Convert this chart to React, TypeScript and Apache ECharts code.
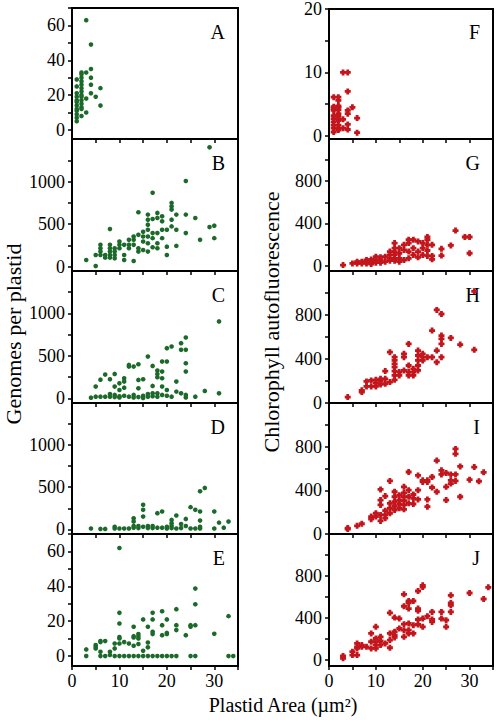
import React, { useEffect, useRef } from "react";
import * as echarts from "echarts";

// ---------- data (x = plastid area µm², y = value) ----------
const panelA = [
  [1, 5], [1, 7], [1, 9], [1, 11], [1, 12], [1, 14], [1, 16], [1, 17], [1, 19], [1, 21], [1, 25], [1, 29],
  [2, 8], [2, 12], [2, 13], [2, 15], [2, 17], [2, 19], [2, 20], [2, 22], [2, 24], [2, 26], [2, 28], [2, 30], [2, 32], [2, 33],
  [3, 10], [3, 18], [3, 33], [3, 63],
  [4, 21], [4, 26], [4, 30], [4, 35], [4, 49],
  [5, 19], [6, 14], [6, 24],
];
const panelB = [
  [3, 79], [5, 8], [5, 138], [6, 257], [6, 217], [6, 178], [6, 138], [7, 138], [7, 107], [8, 257], [8, 217], [8, 178], [8, 138], [8, 107], [8, 442],
  [9, 217], [9, 178], [9, 138], [9, 99], [10, 296], [10, 257], [10, 217], [11, 257], [11, 138], [11, 79], [12, 316], [12, 257], [12, 217],
  [13, 355], [13, 316], [13, 257], [13, 67], [14, 375], [14, 217], [14, 178], [14, 640], [15, 411], [15, 355], [15, 296], [15, 197],
  [16, 612], [16, 553], [16, 494], [16, 434], [16, 355], [16, 276], [16, 178], [17, 869], [17, 561], [17, 395], [17, 336], [17, 229],
  [18, 632], [18, 573], [18, 395], [18, 276], [18, 217], [19, 592], [19, 533], [19, 434], [19, 336], [20, 236], [20, 138], [20, 434],
  [21, 750], [21, 711], [21, 671], [21, 553], [21, 474], [22, 612], [22, 434], [22, 245], [24, 1007], [24, 612], [24, 395],
  [26, 572], [27, 316], [29, 1402], [29, 466], [30, 482], [30, 336],
];
const panelC = [
  [4, 8], [5, 138], [5, 20], [6, 20], [6, 220], [7, 20], [7, 280], [8, 225], [8, 50], [8, 20], [9, 288], [9, 138], [9, 40], [9, 15],
  [10, 177], [10, 98], [10, 25], [10, 10], [11, 197], [11, 236], [11, 126], [11, 30], [12, 374], [12, 394], [12, 20], [13, 374], [13, 40], [13, 10],
  [14, 402], [14, 217], [14, 118], [14, 15], [15, 225], [15, 30], [15, 5], [16, 492], [16, 50], [16, 20], [17, 382], [17, 146], [17, 60], [17, 25],
  [18, 327], [18, 288], [18, 248], [18, 60], [18, 20], [19, 433], [19, 315], [19, 236], [19, 138], [19, 40], [20, 433], [20, 591], [20, 98], [20, 30],
  [21, 610], [21, 20], [22, 197], [22, 79], [23, 650], [23, 571], [23, 59], [24, 717], [24, 571], [24, 413], [24, 315], [24, 40], [24, 10],
  [26, 20], [28, 87], [31, 906], [31, 59],
];
const panelD = [
  [4, 10], [6, 5], [7, 5], [9, 30], [9, 10], [10, 10], [11, 10], [12, 10], [13, 20], [13, 40], [14, 15], [14, 40], [15, 30], [16, 40], [16, 15],
  [17, 40], [17, 15], [18, 20], [19, 20], [20, 30], [20, 10], [21, 40], [21, 15], [22, 10], [23, 15], [24, 40], [25, 10], [26, 10], [27, 30], [27, 10],
  [30, 10], [32, 20],
  [13, 132], [13, 92], [15, 292], [15, 232], [15, 152], [18, 192], [19, 212], [21, 112], [21, 72], [22, 164], [23, 64], [24, 124], [25, 264],
  [26, 232], [27, 452], [28, 492], [27, 212], [27, 104], [30, 212], [31, 80], [33, 92],
];
const panelE = [
  [3, 3.8], [3, 0], [5, 6.3], [5, 5.3], [5, 4.4], [6, 8], [6, 8.6], [6, 2.5], [6, 0], [7, 8.6], [7, 0], [8, 2.5], [8, 0.6], [9, 4.4], [9, 7.2], [9, 0],
  [10, 62], [10, 24.8], [10, 18.7], [10, 10.1], [10, 10.9], [10, 7.2], [10, 0], [11, 8], [11, 0], [12, 7.2], [12, 0],
  [13, 16.8], [13, 11.4], [13, 10.7], [13, 5.9], [13, 0], [14, 12.6], [14, 11.4], [14, 10.1], [14, 6.9], [14, 0], [15, 21], [15, 3], [15, 0],
  [16, 16.8], [16, 7.8], [16, 5], [16, 0], [17, 24.8], [17, 21], [17, 13.9], [17, 12.6], [17, 0], [18, 0], [19, 25.7], [19, 17.7], [19, 12], [19, 0],
  [20, 21], [20, 13.3], [20, 12.6], [20, 0], [21, 0], [22, 26.9], [22, 17.7], [22, 14.9], [22, 0], [24, 12], [25, 17.7], [25, 16.8], [25, 0],
  [26, 38.7], [26, 29.7], [26, 17.7], [26, 0], [30, 12.8], [33, 22.9], [33, 0], [34, 0],
];
const panelF = [
  [1, 6.1], [1, 4.6], [1, 4.3], [1, 4.0], [1, 3.2], [1, 2.7], [1, 2.2], [1, 1.7], [1, 1.2], [1, 0.6],
  [2, 6.1], [2, 5.6], [2, 4.7], [2, 4.5], [2, 4.1], [2, 3.5], [2, 3.1], [2, 2.7], [2, 2.4], [2, 1.7], [2, 1.2], [2, 0.9],
  [3, 10], [3, 2.6], [3, 1.2], [4, 10], [4, 7], [4, 4], [4, 3.5], [4, 1.8], [4, 1], [5, 4.5], [6, 2.8], [6, 0.5],
];
const panelG = [
  [3, 6], [5, 22], [6, 22], [6, 38], [7, 38], [7, 22], [8, 54], [8, 38], [8, 22], [9, 60], [9, 38], [9, 16], [10, 86], [10, 54], [10, 29],
  [11, 80], [11, 54], [11, 29], [12, 86], [12, 38], [13, 134], [13, 102], [13, 70], [13, 48], [14, 214], [14, 166], [14, 134], [14, 102], [14, 70], [14, 48],
  [15, 166], [15, 118], [15, 70], [15, 38], [16, 198], [16, 150], [16, 54], [17, 246], [17, 214], [17, 134], [17, 70], [18, 246], [18, 166], [18, 102],
  [19, 230], [19, 134], [19, 80], [20, 214], [20, 166], [20, 102], [21, 272], [21, 246], [21, 198], [21, 144], [21, 93], [22, 198], [22, 93], [22, 61],
  [24, 160], [24, 96], [26, 192], [27, 333], [29, 272], [30, 272], [30, 118],
];
const panelH = [
  [4, 54], [7, 115], [7, 100], [8, 196], [8, 151], [9, 205], [9, 151], [10, 211], [10, 181], [10, 151], [11, 220], [11, 199], [11, 169],
  [12, 290], [12, 220], [12, 175], [13, 462], [13, 190], [14, 417], [14, 387], [14, 356], [14, 326], [14, 290], [14, 251], [14, 211],
  [15, 281], [15, 251], [16, 447], [16, 417], [16, 296], [17, 537], [17, 341], [17, 281], [17, 251], [18, 311], [18, 281], [18, 251],
  [19, 477], [19, 432], [19, 387], [19, 341], [19, 296], [20, 447], [20, 417], [20, 387], [21, 417], [22, 417], [22, 658],
  [23, 846], [23, 477], [23, 371], [24, 809], [24, 613], [24, 583], [24, 537], [24, 417], [26, 592], [28, 531], [31, 1015], [31, 483],
];
const panelI = [
  [4, 54], [4, 45], [6, 75], [7, 94], [9, 160], [9, 136], [10, 190], [10, 160], [11, 408], [11, 311], [11, 266], [11, 175], [11, 120],
  [12, 347], [12, 214], [12, 175], [12, 145], [13, 486], [13, 281], [13, 236], [13, 190], [14, 387], [14, 341], [14, 296], [14, 257], [14, 220],
  [15, 356], [15, 311], [15, 275], [15, 236], [16, 432], [16, 377], [16, 341], [16, 305], [16, 266], [16, 226], [17, 568], [17, 401], [17, 341], [17, 281],
  [18, 362], [18, 326], [18, 275], [19, 537], [19, 401], [19, 317], [20, 492], [20, 477], [21, 492], [21, 477], [21, 317], [21, 250],
  [22, 426], [22, 522], [23, 673], [23, 387], [24, 583], [24, 546], [25, 559], [25, 432], [25, 311], [26, 546], [26, 492], [26, 462],
  [27, 779], [27, 734], [27, 546], [27, 486], [28, 619], [28, 341], [30, 498], [31, 613], [32, 483], [33, 565],
];
const panelJ = [
  [3, 38], [3, 16], [5, 79], [5, 47], [6, 158], [6, 126], [6, 110], [6, 47], [7, 142], [7, 126], [8, 126], [9, 253], [9, 174], [9, 110],
  [10, 316], [10, 205], [10, 174], [10, 142], [10, 110], [11, 221], [11, 183], [11, 142], [12, 158], [13, 449], [13, 253], [13, 190], [13, 117],
  [14, 404], [14, 269], [14, 237], [14, 215], [15, 395], [15, 300], [16, 626], [16, 512], [16, 341], [16, 284], [16, 221],
  [17, 562], [17, 544], [17, 490], [17, 348], [17, 284], [17, 253], [18, 562], [18, 332], [18, 253], [19, 657], [19, 490], [19, 468], [19, 386], [19, 338],
  [20, 711], [20, 695], [20, 395], [20, 316], [21, 417], [22, 458], [22, 386], [22, 363], [24, 458], [24, 395], [25, 379], [25, 316],
  [26, 616], [26, 544], [26, 521], [26, 458], [30, 638], [33, 581], [34, 692],
];

const xTicks = [0, 10, 20, 30];
const ticksSmallLeft = [0, 20, 40, 60];
const ticksLargeLeft = [0, 500, 1000];
const ticksF = [0, 10, 20];
const ticksRight = [0, 400, 800];

const yLabel = "Genomes per plastid";
const y2Label = "Chlorophyll autofluorescence";
const xLabel = "Plastid Area (µm²)";

// ---------- layout ----------
const FONT = "'Liberation Serif', 'Times New Roman', serif";
const GREEN = "#1c6a2a";
const RED = "#c3161c";
const PLUS = "path://M1.6,0H4.4V1.6H6V4.4H4.4V6H1.6V4.4H0V1.6H1.6Z";
const rowTop = [8, 139, 271, 403, 534];
const rowH = [131, 132, 132, 131, 132];
const colLeft = [72, 329];
const colW = [166, 164];

const panels = [
  { letter: "A", data: panelA, col: 0, row: 0, min: -5.2, max: 70, major: ticksSmallLeft, minor: [10, 30, 50, 70] },
  { letter: "B", data: panelB, col: 0, row: 1, min: -50, max: 1500, major: ticksLargeLeft, minor: [250, 750, 1250] },
  { letter: "C", data: panelC, col: 0, row: 2, min: -55, max: 1500, major: ticksLargeLeft, minor: [250, 750, 1250] },
  { letter: "D", data: panelD, col: 0, row: 3, min: -55, max: 1500, major: ticksLargeLeft, minor: [250, 750, 1250] },
  { letter: "E", data: panelE, col: 0, row: 4, min: -5.7, max: 70, major: ticksSmallLeft, minor: [10, 30, 50, 70] },
  { letter: "F", data: panelF, col: 1, row: 0, min: -0.5, max: 20, major: ticksF, minor: [5, 15] },
  { letter: "G", data: panelG, col: 1, row: 1, min: -50, max: 1200, major: ticksRight, minor: [200, 600, 1000] },
  { letter: "H", data: panelH, col: 1, row: 2, min: 0, max: 1200, major: ticksRight, minor: [200, 600, 1000] },
  { letter: "I", data: panelI, col: 1, row: 3, min: 0, max: 1200, major: ticksRight, minor: [200, 600, 1000] },
  { letter: "J", data: panelJ, col: 1, row: 4, min: -57, max: 1200, major: ticksRight, minor: [200, 600, 1000] },
];

export default function App() {
  const ref = useRef<HTMLDivElement>(null);
  useEffect(() => {
    if (!ref.current) return;
    const chart = echarts.init(ref.current, undefined, { renderer: "svg" });
    const grid: any[] = [];
    const xAxis: any[] = [];
    const yAxis: any[] = [];
    const series: any[] = [];
    const graphic: any[] = [];
    const plain = (v: number) => String(v);
    panels.forEach((p, i) => {
      grid.push({
        left: colLeft[p.col], top: rowTop[p.row], width: colW[p.col], height: rowH[p.row],
        show: true, borderColor: "#000", borderWidth: 2, backgroundColor: "transparent",
      });
      xAxis.push({
        gridIndex: i, type: "value", min: 0, max: 35, interval: 5,
        axisLine: { show: true, onZero: false, lineStyle: { color: "#000", width: 2 } },
        axisTick: { show: true, inside: false, length: 4, lineStyle: { color: "#000", width: 1.5 } },
        axisLabel: {
          show: p.row === 4, customValues: xTicks, formatter: plain,
          color: "#000", fontFamily: FONT, fontSize: 18, margin: 6,
        },
        splitLine: { show: false },
      });
      yAxis.push({
        gridIndex: i, type: "value", min: p.min, max: p.max,
        axisLine: { show: true, onZero: false, lineStyle: { color: "#000", width: 2 } },
        axisTick: { show: true, inside: false, length: 4, customValues: [...p.major, ...p.minor], lineStyle: { color: "#000", width: 1.5 } },
        axisLabel: { customValues: p.major, formatter: plain, color: "#000", fontFamily: FONT, fontSize: 18, margin: 7 },
        splitLine: { show: false },
      });
      const isLeft = p.col === 0;
      series.push({
        type: "scatter", xAxisIndex: i, yAxisIndex: i, data: p.data,
        symbol: isLeft ? "circle" : PLUS, symbolSize: isLeft ? 4.6 : 6,
        itemStyle: { color: isLeft ? GREEN : RED, opacity: 1 },
        silent: true,
      });
      graphic.push({
        type: "text",
        x: colLeft[p.col] + colW[p.col] - 13,
        y: rowTop[p.row] + 24,
        style: { text: p.letter, font: `20px ${FONT}`, fill: "#000", textAlign: "right", textVerticalAlign: "middle" },
      });
    });
    graphic.push({
      type: "text", x: 13, y: 334, rotation: Math.PI / 2,
      style: { text: yLabel, font: `22px ${FONT}`, fill: "#000", textAlign: "center", textVerticalAlign: "middle" },
    });
    graphic.push({
      type: "text", x: 271, y: 322, rotation: Math.PI / 2,
      style: { text: y2Label, font: `22px ${FONT}`, fill: "#000", textAlign: "center", textVerticalAlign: "middle" },
    });
    graphic.push({
      type: "text", x: 283, y: 705,
      style: { text: xLabel, font: `20px ${FONT}`, fill: "#000", textAlign: "center", textVerticalAlign: "middle" },
    });
    chart.setOption({
      animation: false,
      backgroundColor: "#fff",
      grid, xAxis, yAxis, series, graphic,
    });
    return () => chart.dispose();
  }, []);
  return (
    <div
      ref={ref}
      style={{ position: "absolute", left: 0, top: 0, width: 498, height: 720, background: "#fff" }}
    />
  );
}
